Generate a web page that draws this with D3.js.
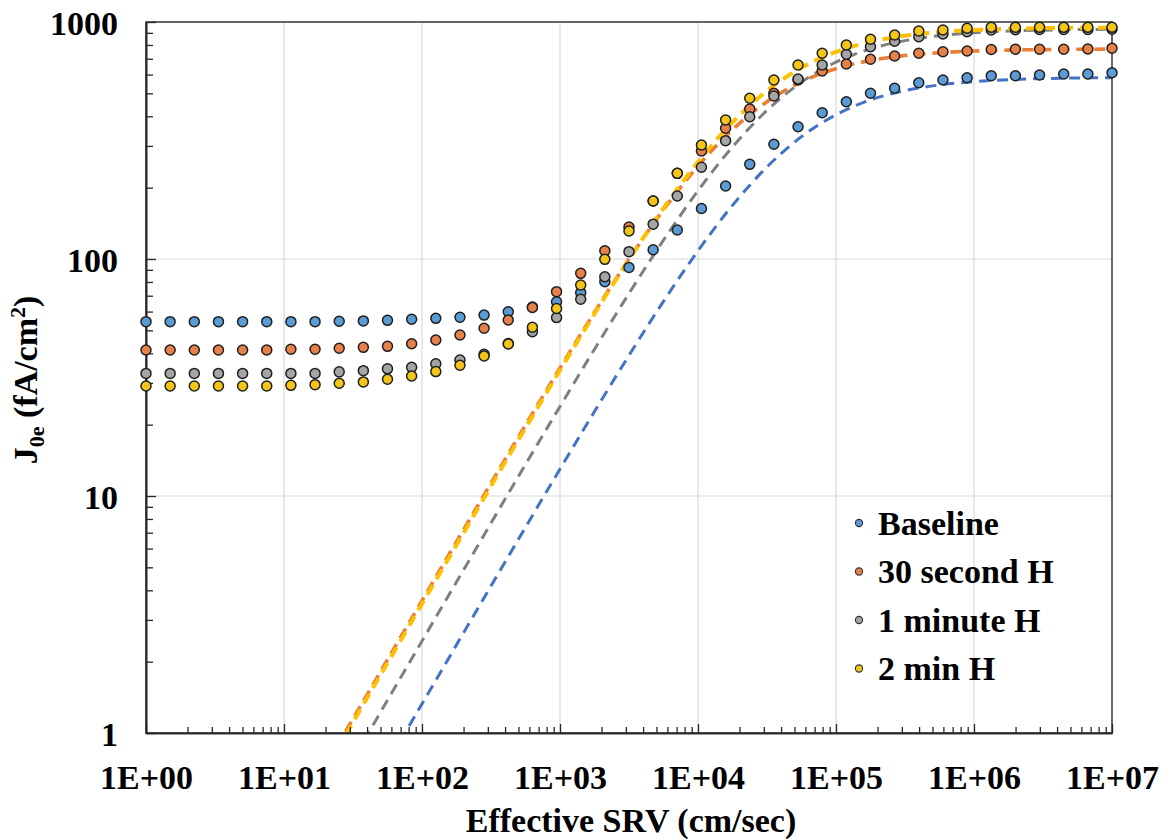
<!DOCTYPE html>
<html>
<head>
<meta charset="utf-8">
<script src="https://cdn.jsdelivr.net/npm/d3@7"></script>
<style>
  html, body { margin: 0; padding: 0; background: #fff; }
  svg text { font-family: "Liberation Serif", "Times New Roman", serif; font-weight: bold; fill: #000; }
</style>
</head>
<body>
<svg id="chart" width="1165" height="840"></svg>
<script>
// ---- Data ----
const seriesNames = ["Baseline", "30 second H", "1 minute H", "2 min H"];
const srv = [1, 1.496, 2.239, 3.350, 5.012, 7.499, 11.22, 16.79, 25.12, 37.58,
  56.23, 84.14, 125.9, 188.4, 281.8, 421.7, 631.0, 944.1, 1413, 2113,
  3162, 4732, 7079, 10593, 15849, 23714, 35481, 53088, 79433, 118850,
  177828, 266073, 398107, 595662, 891251, 1333521, 1995262, 2985383, 4466836, 6683439, 10000000];
const baseline = [54.4, 54.4, 54.4, 54.4, 54.4, 54.4, 54.4, 54.4, 54.6, 54.8,
  55.1, 55.7, 56.2, 56.8, 58.0, 59.9, 62.7, 66.0, 72.1, 80.2,
  92.1, 109.4, 132.6, 163.4, 203.2, 250.9, 304.8, 361.6, 414.2, 461.0,
  500.2, 525.1, 554.5, 569.3, 582.1, 593.5, 593.5, 597.5, 603.3, 603.3, 611.0];
const sec30 = [41.3, 41.3, 41.3, 41.3, 41.3, 41.3, 41.6, 41.6, 42.0, 42.4,
  42.8, 43.9, 45.5, 47.8, 51.0, 55.3, 62.4, 72.8, 87.0, 108.4,
  136.5, 175.7, 229.9, 285.6, 356.0, 429.6, 500.2, 569.3, 621.2, 664.9,
  696.0, 718.7, 737.8, 749.4, 754.5, 765.6, 767, 767, 767, 769, 774.5];
const min1 = [32.9, 32.9, 32.9, 32.9, 32.9, 32.9, 32.9, 32.9, 33.4, 33.8,
  34.4, 34.9, 36.1, 37.5, 39.6, 44.0, 49.3, 56.6, 67.6, 84.2,
  107.4, 140.3, 184.4, 243.8, 315.7, 398.5, 487.3, 574.9, 658.5, 730.6,
  786.6, 829.8, 867.0, 890.1, 910.2, 925.2, 928, 930, 930, 930, 932];
const min2 = [29.1, 29.1, 29.1, 29.1, 29.1, 29.1, 29.3, 29.5, 29.9, 30.3,
  31.1, 32.1, 33.5, 35.6, 39.0, 43.8, 51.5, 61.8, 77.7, 99.7,
  131.3, 175.7, 229.9, 302.7, 385.9, 476.5, 569.3, 658.5, 737.8, 799.8,
  845.3, 881.4, 916.2, 925.2, 940.6, 949.7, 949.7, 949.7, 949.7, 949.7, 949.7];

// fitted (dashed) curves, read at quarter-decade SRV values
const fitSRV = [17.78, 31.62, 56.23, 100, 177.8, 316.2, 562.3, 1000, 1778, 3162,
  5623, 10000, 17783, 31623, 56234, 100000, 177828, 316228, 562341, 1000000,
  1778279, 3162278, 5623413, 10000000];
const fitBaseline = [0.236, 0.420, 0.747, 1.327, 2.354, 4.174, 7.382, 13.0, 22.72, 39.22,
  66.29, 108.3, 168.4, 244.6, 328.2, 406.3, 469.0, 513.5, 542.5, 560.3, 570.9, 577.0, 580.5, 582.4];
const fitSec30 = [0.645, 1.147, 2.037, 3.615, 6.404, 11.32, 19.90, 34.68, 59.58, 99.94,
  161.4, 246.8, 351.3, 461.0, 559.2, 635.3, 688.0, 721.6, 742.0, 754.0, 760.9, 764.9, 767.1, 768.4];
const fitMin1 = [0.436, 0.774, 1.376, 2.444, 4.337, 7.686, 13.58, 23.88, 41.64, 71.56,
  120.1, 194.2, 297.3, 423.8, 557.1, 676.8, 769.8, 834.3, 875.6, 900.6, 915.4, 923.9, 928.7, 931.4];
const fitMin2 = [0.625, 1.111, 1.974, 3.506, 6.215, 11.00, 19.38, 33.93, 58.69, 99.59,
  163.7, 256.8, 377.2, 512.5, 641.8, 748.0, 824.8, 875.3, 906.5, 925.0, 935.8, 942.0, 945.5, 947.4];

const xTicks = [1, 10, 100, 1000, 1e4, 1e5, 1e6, 1e7];
const xTickLabels = ["1E+00", "1E+01", "1E+02", "1E+03", "1E+04", "1E+05", "1E+06", "1E+07"];
const yTicks = [1, 10, 100, 1000];
const yTickLabels = ["1", "10", "100", "1000"];
const xTitle = "Effective SRV (cm/sec)";

// ---- Layout / styles ----
const L = 146, R = 1112, T = 22, B = 733;
const pointColors = ["#5b9bd5", "#e8804a", "#a5a5a5", "#f2c518"];
const lineColors = ["#4472c4", "#ed7d31", "#7f7f7f", "#ffc000"];
const lineWidths = [3, 3.6, 3, 4];

const svg = d3.select("#chart");
const x = d3.scaleLog().domain([1, 1e7]).range([L, R]);
const y = d3.scaleLog().domain([1, 1000]).range([B, T]);

// gridlines
const grid = svg.append("g");
grid.selectAll("line.gx").data(xTicks.slice(1, -1)).join("line")
  .attr("x1", d => x(d)).attr("x2", d => x(d)).attr("y1", T).attr("y2", B)
  .attr("stroke", "#d9d9d9").attr("stroke-width", 1.2);
grid.selectAll("line.gy").data(yTicks.slice(1, -1)).join("line")
  .attr("y1", d => y(d)).attr("y2", d => y(d)).attr("x1", L).attr("x2", R)
  .attr("stroke", "#d9d9d9").attr("stroke-width", 1.2);

// clip
svg.append("clipPath").attr("id", "plotclip").append("rect")
  .attr("x", L).attr("y", T).attr("width", R - L).attr("height", B - T);

// fit lines
const fits = [fitBaseline, fitSec30, fitMin1, fitMin2];
const line = d3.line().x(d => x(d[0])).y(d => y(d[1])).curve(d3.curveMonotoneX);
const fitG = svg.append("g").attr("clip-path", "url(#plotclip)");
fits.forEach((vals, k) => {
  fitG.append("path")
    .attr("d", line(fitSRV.map((s, i) => [s, vals[i]])))
    .attr("fill", "none")
    .attr("stroke", lineColors[k])
    .attr("stroke-width", lineWidths[k])
    .attr("stroke-dasharray", "11,7");
});

// border box
svg.append("rect").attr("x", L).attr("y", T).attr("width", R - L).attr("height", B - T)
  .attr("fill", "none").attr("stroke", "#404040").attr("stroke-width", 1.6);

// axes
const minorX = [];
for (let e = 0; e < 7; e++) for (let m = 2; m <= 9; m++) minorX.push(m * Math.pow(10, e));
const minorY = [];
for (let e = 0; e < 3; e++) for (let m = 2; m <= 9; m++) minorY.push(m * Math.pow(10, e));

const xAxisMinor = svg.append("g").attr("transform", `translate(0,${B})`)
  .call(d3.axisBottom(x).tickValues(minorX).tickFormat("").tickSizeInner(-6).tickSizeOuter(0));
const xAxis = svg.append("g").attr("transform", `translate(0,${B})`)
  .call(d3.axisBottom(x).tickValues(xTicks).tickFormat((d, i) => xTickLabels[i])
    .tickSizeInner(-9).tickSizeOuter(0).tickPadding(32));
const yAxisMinor = svg.append("g").attr("transform", `translate(${L},0)`)
  .call(d3.axisLeft(y).tickValues(minorY).tickFormat("").tickSizeInner(-7).tickSizeOuter(0));
const yAxis = svg.append("g").attr("transform", `translate(${L},0)`)
  .call(d3.axisLeft(y).tickValues(yTicks).tickFormat((d, i) => yTickLabels[i])
    .tickSizeInner(-10).tickSizeOuter(0).tickPadding(28));

[xAxisMinor, xAxis, yAxisMinor, yAxis].forEach(g => {
  g.select(".domain").attr("stroke", "#262626").attr("stroke-width", 1.6);
  g.selectAll(".tick line").attr("stroke", "#262626").attr("stroke-width", 1.3);
  g.selectAll(".tick text").style("font-size", "34px").style("font-family", '"Liberation Serif", serif')
    .style("font-weight", "bold").attr("fill", "#000");
});
yAxis.selectAll(".tick text").attr("dy", "0.36em");

// points
const seriesVals = [baseline, sec30, min1, min2];
seriesVals.forEach((vals, k) => {
  svg.append("g").selectAll("circle").data(vals).join("circle")
    .attr("cx", (d, i) => x(srv[i]))
    .attr("cy", d => y(d))
    .attr("r", 5)
    .attr("fill", pointColors[k])
    .attr("stroke", "#1f1f1f")
    .attr("stroke-width", 1.5);
});

// axis titles
svg.append("text").attr("x", (L + R) / 2 + 2).attr("y", 832).attr("text-anchor", "middle")
  .style("font-size", "34px").text(xTitle);

const yt = svg.append("text").attr("transform", "translate(37,380) rotate(-90)")
  .attr("text-anchor", "middle").style("font-size", "34px");
yt.append("tspan").text("J");
yt.append("tspan").text("0e").style("font-size", "22px").attr("dy", 7);
yt.append("tspan").text(" (fA/cm").attr("dy", -7);
yt.append("tspan").text("2").style("font-size", "22px").attr("dy", -12);
yt.append("tspan").text(")").attr("dy", 12);

// legend
const lg = svg.append("g");
seriesNames.forEach((name, k) => {
  const cy = 523 + k * 48.5;
  lg.append("circle").attr("cx", 859).attr("cy", cy).attr("r", 3.6)
    .attr("fill", pointColors[k]).attr("stroke", "#333").attr("stroke-width", 1.1);
  lg.append("text").attr("x", 878).attr("y", cy).attr("dy", "0.35em")
    .style("font-size", "34px").text(name);
});
</script>
</body>
</html>
